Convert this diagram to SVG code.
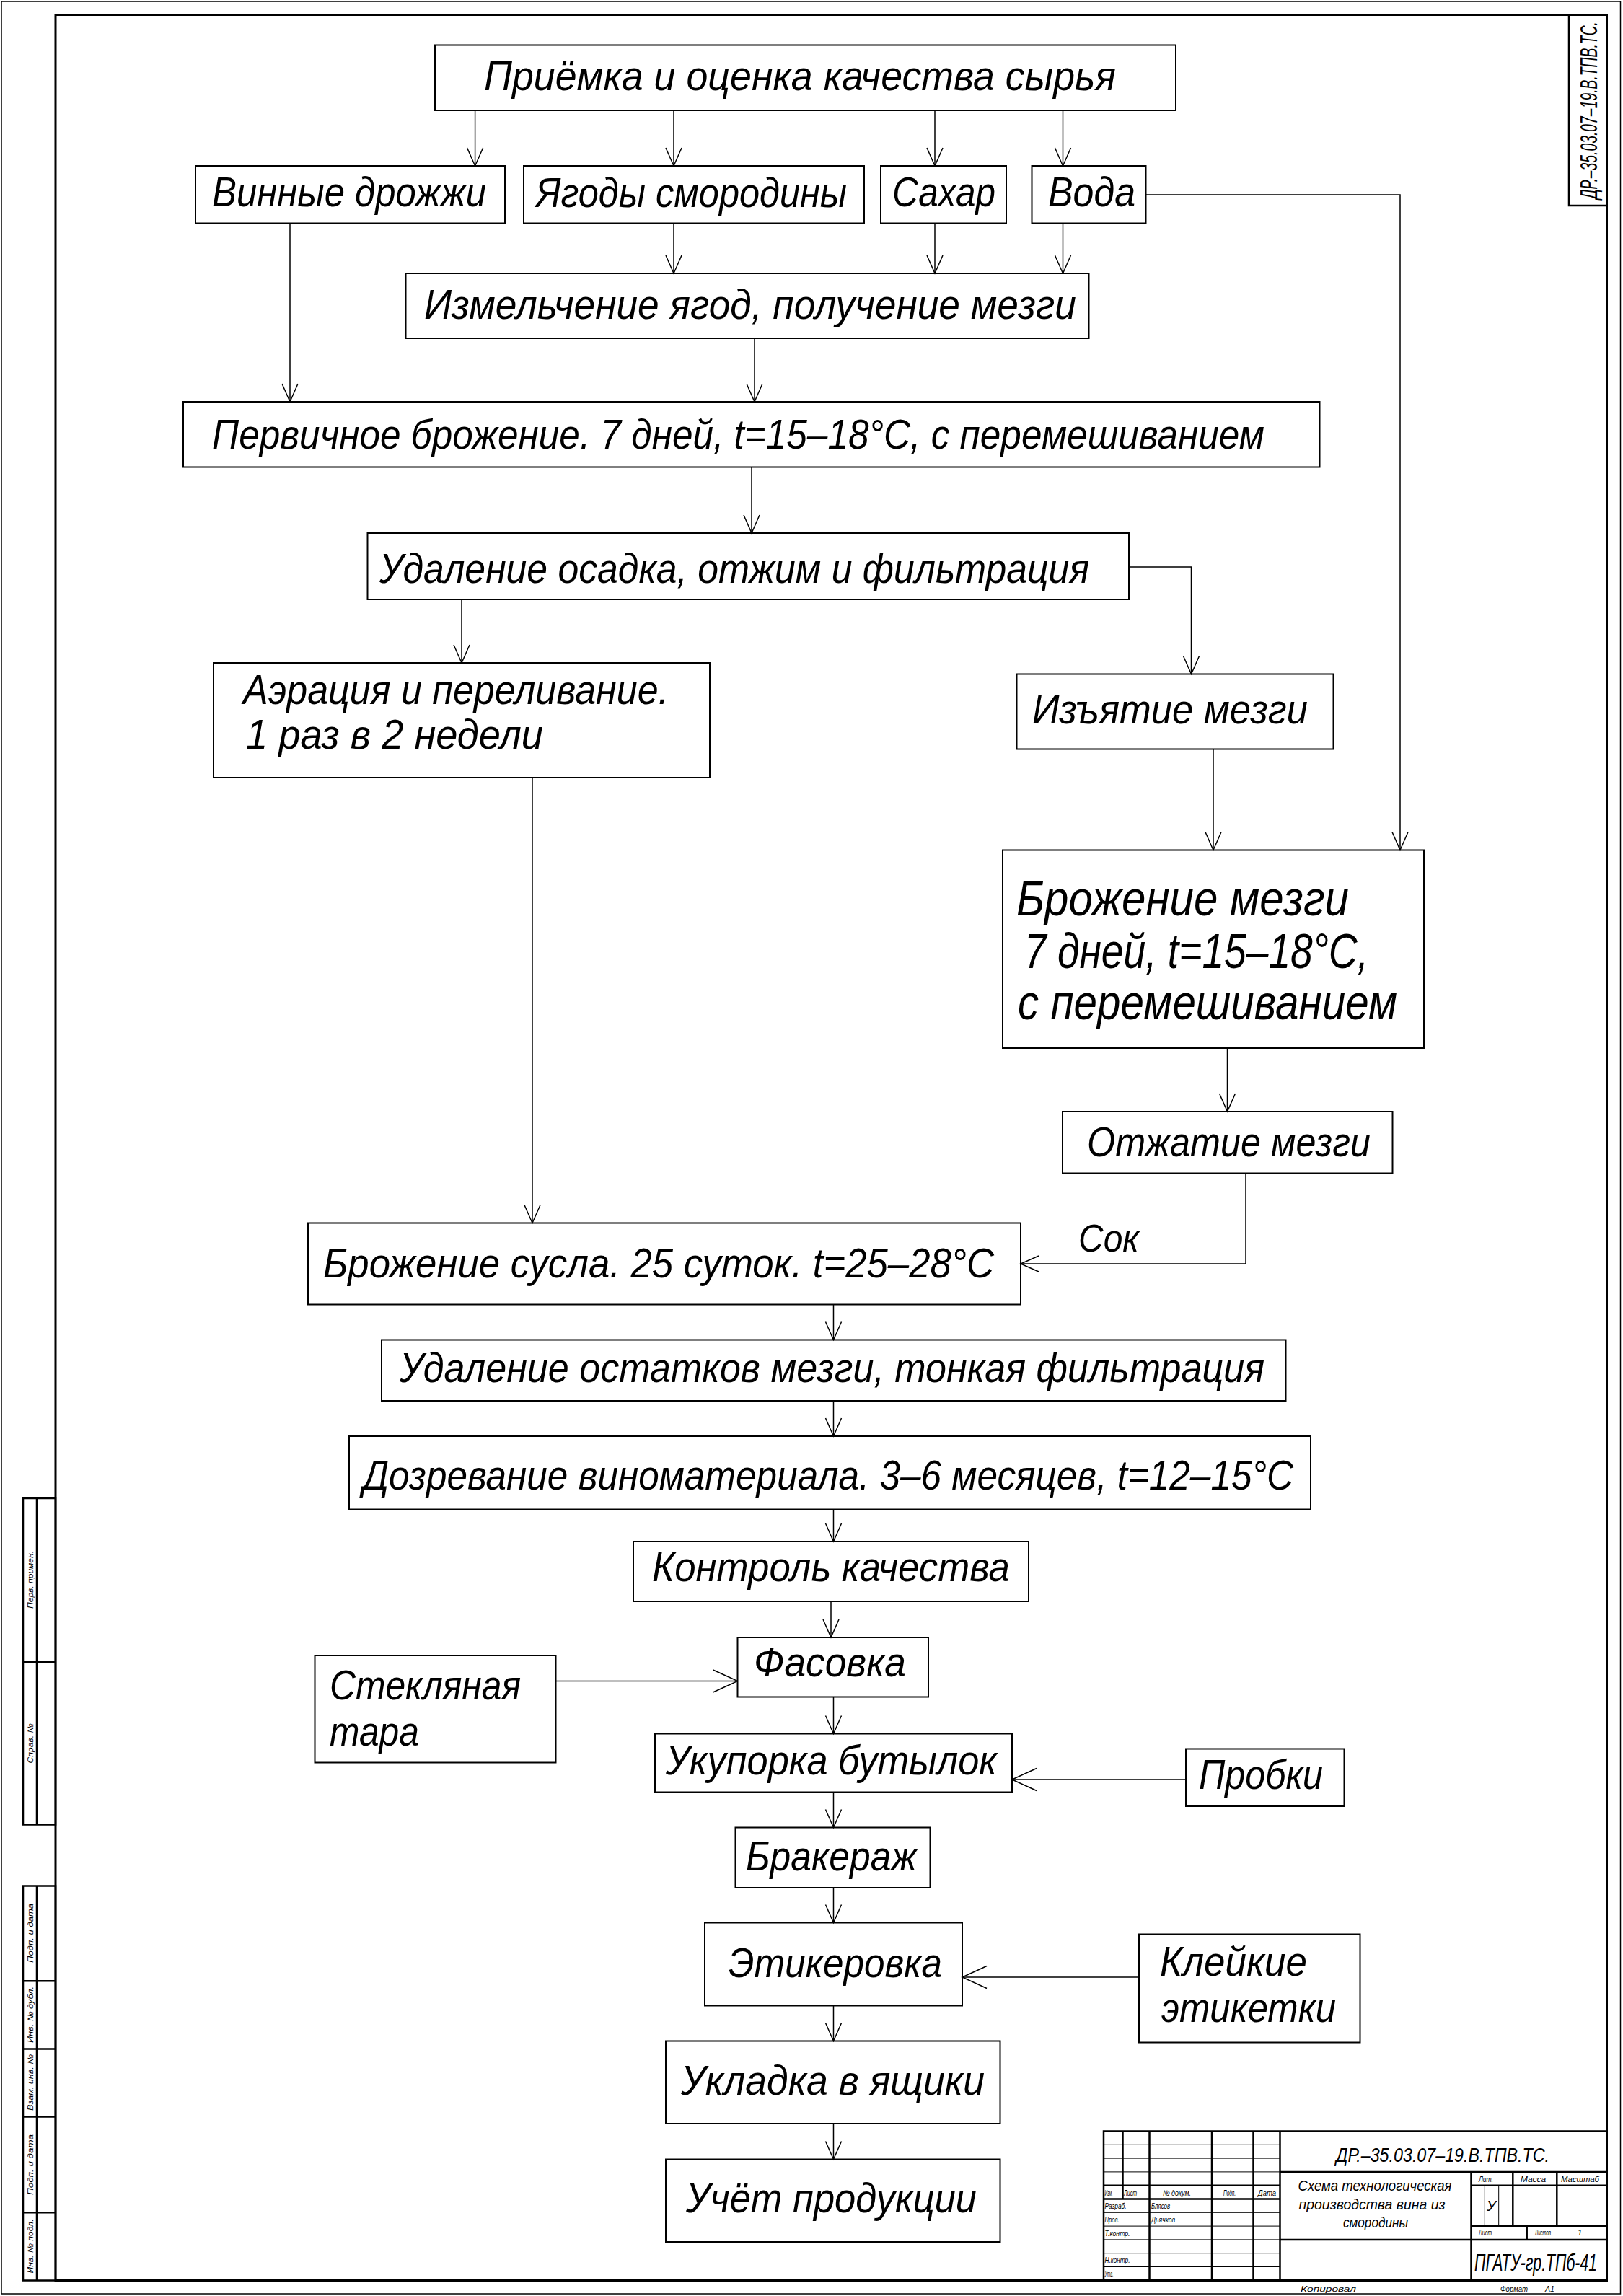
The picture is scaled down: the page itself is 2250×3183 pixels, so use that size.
<svg xmlns="http://www.w3.org/2000/svg" width="2250" height="3183" viewBox="0 0 2250 3183">
<style>
.box{fill:none;stroke:#000;stroke-width:2}
.con{fill:none;stroke:#000;stroke-width:1.5}
.thk{fill:none;stroke:#000;stroke-width:2.5}
.thn{fill:none;stroke:#000;stroke-width:1}
.t{font-family:"Liberation Sans","DejaVu Sans",sans-serif;font-style:italic;fill:#000;font-size:58px}
.b{font-size:68px}
.s{font-size:11px}
.f20{font-size:20px}
.f21{font-size:21px}
.f28{font-size:28px}
.f33{font-size:33px}
.f53{font-size:53px}
</style>
<defs>
<marker id="ah" markerUnits="userSpaceOnUse" viewBox="-40 -20 42 40" markerWidth="42" markerHeight="40" refX="0" refY="0" orient="auto">
<path d="M-25,-11 L0,0 L-25,11" fill="none" stroke="#000" stroke-width="1.5"/>
</marker>
<marker id="ahb" markerUnits="userSpaceOnUse" viewBox="-40 -20 42 40" markerWidth="42" markerHeight="40" refX="0" refY="0" orient="auto">
<path d="M-34,-15.5 L0,0 L-34,15.5" fill="none" stroke="#000" stroke-width="1.5"/>
</marker>
</defs>
<rect width="2250" height="3183" fill="#fff"/>

<g id="frame">
<rect x="2" y="2" width="2244.5" height="3178" fill="none" stroke="#000" stroke-width="1.5"/>
<rect x="77" y="20.5" width="2150.5" height="3141" fill="none" stroke="#000" stroke-width="3"/>
<rect x="2175" y="20.5" width="52.5" height="264.5" class="thk"/>
<text class="t f33" transform="translate(2214,276) rotate(-90)" textLength="246" lengthAdjust="spacingAndGlyphs">ДР.–35.03.07–19.В.ТПВ.ТС.</text>
</g>

<g id="side-strip">
<rect x="32" y="2077" width="45" height="452.5" class="thk"/>
<line x1="51" y1="2077" x2="51" y2="2529.5" class="thk"/>
<line x1="32" y1="2304" x2="77" y2="2304" class="thk"/>
<rect x="32" y="2614.5" width="45" height="547" class="thk"/>
<line x1="51" y1="2614.5" x2="51" y2="3161.5" class="thk"/>
<line x1="32" y1="2746.3" x2="77" y2="2746.3" class="thk"/>
<line x1="32" y1="2840.6" x2="77" y2="2840.6" class="thk"/>
<line x1="32" y1="2934.5" x2="77" y2="2934.5" class="thk"/>
<line x1="32" y1="3067.3" x2="77" y2="3067.3" class="thk"/>
<g class="t s" text-anchor="middle">
<text transform="translate(46,2190) rotate(-90)" textLength="80" lengthAdjust="spacingAndGlyphs">Перв. примен.</text>
<text transform="translate(46,2417) rotate(-90)" textLength="55" lengthAdjust="spacingAndGlyphs">Справ. №</text>
<text transform="translate(46,2680) rotate(-90)" textLength="82" lengthAdjust="spacingAndGlyphs">Подп. и дата</text>
<text transform="translate(46,2793) rotate(-90)" textLength="78" lengthAdjust="spacingAndGlyphs">Инв. № дубл.</text>
<text transform="translate(46,2887) rotate(-90)" textLength="78" lengthAdjust="spacingAndGlyphs">Взам. инв. №</text>
<text transform="translate(46,3001) rotate(-90)" textLength="84" lengthAdjust="spacingAndGlyphs">Подп. и дата</text>
<text transform="translate(46,3114) rotate(-90)" textLength="75" lengthAdjust="spacingAndGlyphs">Инв. № подл.</text>
</g>
</g>

<g id="title-block">
<rect x="1530" y="2954.5" width="697.5" height="207" class="thk"/>
<line x1="1556.5" y1="2954.5" x2="1556.5" y2="3048.5" class="thk"/>
<line x1="1593.5" y1="2954.5" x2="1593.5" y2="3161.5" class="thk"/>
<line x1="1680" y1="2954.5" x2="1680" y2="3161.5" class="thk"/>
<line x1="1737.5" y1="2954.5" x2="1737.5" y2="3161.5" class="thk"/>
<line x1="1774.5" y1="2954.5" x2="1774.5" y2="3161.5" class="thk"/>
<line x1="2039.5" y1="3010.9" x2="2039.5" y2="3161.5" class="thk"/>
<g class="thn">
<line x1="1530" y1="2973.3" x2="1774.5" y2="2973.3"/>
<line x1="1530" y1="2992.1" x2="1774.5" y2="2992.1"/>
<line x1="1530" y1="3010.9" x2="1774.5" y2="3010.9"/>
<line x1="1530" y1="3067.3" x2="1774.5" y2="3067.3"/>
<line x1="1530" y1="3086.1" x2="1774.5" y2="3086.1"/>
<line x1="1530" y1="3104.9" x2="1774.5" y2="3104.9"/>
<line x1="1530" y1="3123.7" x2="1774.5" y2="3123.7"/>
<line x1="1530" y1="3142.5" x2="1774.5" y2="3142.5"/>
<line x1="2058.3" y1="3029.7" x2="2058.3" y2="3086.1"/>
<line x1="2077.7" y1="3029.7" x2="2077.7" y2="3086.1"/>
</g>
<line x1="1530" y1="3029.7" x2="1774.5" y2="3029.7" class="thk"/>
<line x1="1530" y1="3048.5" x2="1774.5" y2="3048.5" class="thk"/>
<line x1="1774.5" y1="3010.9" x2="2227.5" y2="3010.9" class="thk"/>
<line x1="2039.5" y1="3029.7" x2="2227.5" y2="3029.7" class="thk"/>
<line x1="2039.5" y1="3086.1" x2="2227.5" y2="3086.1" class="thk"/>
<line x1="1774.5" y1="3104.9" x2="2227.5" y2="3104.9" class="thk"/>
<line x1="2097.3" y1="3010.9" x2="2097.3" y2="3086.1" class="thk"/>
<line x1="2158.3" y1="3010.9" x2="2158.3" y2="3086.1" class="thk"/>
<line x1="2116.7" y1="3086.1" x2="2116.7" y2="3104.9" class="thk"/>
<g class="t s">
<text x="1531.5" y="3044" textLength="11" lengthAdjust="spacingAndGlyphs">Изм.</text>
<text x="1558" y="3044" textLength="18" lengthAdjust="spacingAndGlyphs">Лист</text>
<text x="1612" y="3044" textLength="39" lengthAdjust="spacingAndGlyphs">№ докум.</text>
<text x="1696" y="3044" textLength="17" lengthAdjust="spacingAndGlyphs">Подп.</text>
<text x="1744" y="3044" textLength="25" lengthAdjust="spacingAndGlyphs">Дата</text>
<text x="1531.5" y="3062" textLength="30" lengthAdjust="spacingAndGlyphs">Разраб.</text>
<text x="1596" y="3062" textLength="26" lengthAdjust="spacingAndGlyphs">Блясов</text>
<text x="1531.5" y="3081" textLength="20" lengthAdjust="spacingAndGlyphs">Пров.</text>
<text x="1596" y="3081" textLength="33" lengthAdjust="spacingAndGlyphs">Дьячков</text>
<text x="1531.5" y="3100" textLength="35" lengthAdjust="spacingAndGlyphs">Т.контр.</text>
<text x="1531.5" y="3137" textLength="35" lengthAdjust="spacingAndGlyphs">Н.контр.</text>
<text x="1531.5" y="3156" textLength="12" lengthAdjust="spacingAndGlyphs">Утв.</text>
<text x="2050" y="3025" textLength="20" lengthAdjust="spacingAndGlyphs">Лит.</text>
<text x="2108" y="3025" textLength="35" lengthAdjust="spacingAndGlyphs">Масса</text>
<text x="2164" y="3025" textLength="53" lengthAdjust="spacingAndGlyphs">Масштаб</text>
<text x="2050" y="3099" textLength="18" lengthAdjust="spacingAndGlyphs">Лист</text>
<text x="2128" y="3099" textLength="22" lengthAdjust="spacingAndGlyphs">Листов</text>
<text x="2187" y="3099">1</text>
<text x="1803" y="3177" textLength="77" lengthAdjust="spacingAndGlyphs">Копировал</text>
<text x="2080" y="3177" textLength="38" lengthAdjust="spacingAndGlyphs">Формат</text>
<text x="2142" y="3177" textLength="13" lengthAdjust="spacingAndGlyphs">А1</text>
</g>
<text class="t f20" x="2061" y="3065">У</text>
<text class="t f28" x="1852" y="2997" textLength="296" lengthAdjust="spacingAndGlyphs">ДР.–35.03.07–19.В.ТПВ.ТС.</text>
<g class="t f21" text-anchor="middle">
<text x="1906" y="3037" textLength="213" lengthAdjust="spacingAndGlyphs">Схема технологическая</text>
<text x="1902" y="3063" textLength="203" lengthAdjust="spacingAndGlyphs">производства вина из</text>
<text x="1907" y="3088" textLength="90" lengthAdjust="spacingAndGlyphs">смородины</text>
</g>
<text class="t f33" x="2044" y="3148" textLength="170" lengthAdjust="spacingAndGlyphs">ПГАТУ-гр.ТПб-41</text>
</g>

<g id="connectors">
<line x1="658.6" y1="153" x2="658.6" y2="230" class="con" marker-end="url(#ah)"/>
<line x1="934" y1="153" x2="934" y2="230" class="con" marker-end="url(#ah)"/>
<line x1="1296" y1="153" x2="1296" y2="230" class="con" marker-end="url(#ah)"/>
<line x1="1473.5" y1="153" x2="1473.5" y2="230" class="con" marker-end="url(#ah)"/>
<line x1="934" y1="309.5" x2="934" y2="379" class="con" marker-end="url(#ah)"/>
<line x1="1296" y1="309.5" x2="1296" y2="379" class="con" marker-end="url(#ah)"/>
<line x1="1473.5" y1="309.5" x2="1473.5" y2="379" class="con" marker-end="url(#ah)"/>
<line x1="402" y1="309.5" x2="402" y2="557" class="con" marker-end="url(#ah)"/>
<line x1="1046" y1="469" x2="1046" y2="557" class="con" marker-end="url(#ah)"/>
<polyline points="1588.5,270 1941,270 1941,1178.5" class="con" marker-end="url(#ah)"/>
<line x1="1042" y1="647.5" x2="1042" y2="739" class="con" marker-end="url(#ah)"/>
<line x1="640" y1="831" x2="640" y2="919" class="con" marker-end="url(#ah)"/>
<polyline points="1565,786 1651.5,786 1651.5,934.5" class="con" marker-end="url(#ah)"/>
<line x1="738" y1="1078" x2="738" y2="1695.5" class="con" marker-end="url(#ah)"/>
<line x1="1682" y1="1038.5" x2="1682" y2="1178.5" class="con" marker-end="url(#ah)"/>
<line x1="1701.5" y1="1453" x2="1701.5" y2="1541" class="con" marker-end="url(#ah)"/>
<polyline points="1727,1626.5 1727,1752 1415,1752" class="con" marker-end="url(#ah)"/>
<line x1="1155.5" y1="1808.5" x2="1155.5" y2="1857.5" class="con" marker-end="url(#ah)"/>
<line x1="1155.5" y1="1942" x2="1155.5" y2="1991" class="con" marker-end="url(#ah)"/>
<line x1="1155.5" y1="2092.5" x2="1155.5" y2="2137" class="con" marker-end="url(#ah)"/>
<line x1="1152" y1="2220" x2="1152" y2="2270" class="con" marker-end="url(#ah)"/>
<line x1="770.5" y1="2330.5" x2="1022.5" y2="2330.5" class="con" marker-end="url(#ahb)"/>
<line x1="1155.5" y1="2352.5" x2="1155.5" y2="2403.5" class="con" marker-end="url(#ah)"/>
<line x1="1644" y1="2467" x2="1403" y2="2467" class="con" marker-end="url(#ahb)"/>
<line x1="1155.5" y1="2484.5" x2="1155.5" y2="2533.5" class="con" marker-end="url(#ah)"/>
<line x1="1155.5" y1="2617" x2="1155.5" y2="2665.5" class="con" marker-end="url(#ah)"/>
<line x1="1579" y1="2741" x2="1334" y2="2741" class="con" marker-end="url(#ahb)"/>
<line x1="1155.5" y1="2780.5" x2="1155.5" y2="2829.5" class="con" marker-end="url(#ah)"/>
<line x1="1155.5" y1="2944" x2="1155.5" y2="2993.5" class="con" marker-end="url(#ah)"/>
<text class="t f53" x="1495" y="1735" textLength="84" lengthAdjust="spacingAndGlyphs">Сок</text>
</g>

<g id="n1"><rect x="603" y="62.5" width="1027" height="90.5" class="box"/><text class="t" x="671" y="125" textLength="876" lengthAdjust="spacingAndGlyphs">Приёмка и оценка качества сырья</text></g>
<g id="n2"><rect x="271" y="230" width="429" height="79.5" class="box"/><text class="t" x="294" y="286" textLength="380" lengthAdjust="spacingAndGlyphs">Винные дрожжи</text></g>
<g id="n3"><rect x="726" y="230" width="472" height="79.5" class="box"/><text class="t" x="743" y="287" textLength="431" lengthAdjust="spacingAndGlyphs">Ягоды смородины</text></g>
<g id="n4"><rect x="1221" y="230" width="174" height="79.5" class="box"/><text class="t" x="1237" y="286" textLength="143" lengthAdjust="spacingAndGlyphs">Сахар</text></g>
<g id="n5"><rect x="1430.5" y="230" width="158" height="79.5" class="box"/><text class="t" x="1453" y="286" textLength="121" lengthAdjust="spacingAndGlyphs">Вода</text></g>
<g id="n6"><rect x="562.5" y="379" width="947" height="90" class="box"/><text class="t" x="588" y="442" textLength="904" lengthAdjust="spacingAndGlyphs">Измельчение ягод, получение мезги</text></g>
<g id="n7"><rect x="254" y="557" width="1575.5" height="90.5" class="box"/><text class="t" x="294" y="622" textLength="1459" lengthAdjust="spacingAndGlyphs">Первичное брожение. 7 дней, t=15–18°C, с перемешиванием</text></g>
<g id="n8"><rect x="509.5" y="739" width="1055.5" height="92" class="box"/><text class="t" x="526" y="808" textLength="984" lengthAdjust="spacingAndGlyphs">Удаление осадка, отжим и фильтрация</text></g>
<g id="n9"><rect x="296" y="919" width="688" height="159" class="box"/><text class="t" x="337" y="976" textLength="590" lengthAdjust="spacingAndGlyphs">Аэрация и переливание.</text><text class="t" x="341" y="1038" textLength="412" lengthAdjust="spacingAndGlyphs">1 раз в 2 недели</text></g>
<g id="n10"><rect x="1409.5" y="934.5" width="439" height="104" class="box"/><text class="t" x="1431" y="1003" textLength="382" lengthAdjust="spacingAndGlyphs">Изъятие мезги</text></g>
<g id="n11"><rect x="1390" y="1178.5" width="584" height="274.5" class="box"/><text class="t b" x="1409" y="1269" textLength="461" lengthAdjust="spacingAndGlyphs">Брожение мезги</text><text class="t b" x="1420" y="1342" textLength="477" lengthAdjust="spacingAndGlyphs">7 дней, t=15–18°C,</text><text class="t b" x="1411" y="1413" textLength="526" lengthAdjust="spacingAndGlyphs">с перемешиванием</text></g>
<g id="n12"><rect x="1473" y="1541" width="457.5" height="85.5" class="box"/><text class="t" x="1507" y="1603" textLength="393" lengthAdjust="spacingAndGlyphs">Отжатие мезги</text></g>
<g id="n13"><rect x="427" y="1695.5" width="988" height="113" class="box"/><text class="t" x="448" y="1771" textLength="930" lengthAdjust="spacingAndGlyphs">Брожение сусла. 25 суток. t=25–28°C</text></g>
<g id="n14"><rect x="529" y="1857.5" width="1253.5" height="84.5" class="box"/><text class="t" x="554" y="1916" textLength="1199" lengthAdjust="spacingAndGlyphs">Удаление остатков мезги, тонкая фильтрация</text></g>
<g id="n15"><rect x="484" y="1991" width="1333" height="101.5" class="box"/><text class="t" x="503" y="2065" textLength="1290" lengthAdjust="spacingAndGlyphs">Дозревание виноматериала. 3–6 месяцев, t=12–15°C</text></g>
<g id="n16"><rect x="878" y="2137" width="548" height="83" class="box"/><text class="t" x="904" y="2192" textLength="496" lengthAdjust="spacingAndGlyphs">Контроль качества</text></g>
<g id="n17"><rect x="1022.5" y="2270" width="264.5" height="82.5" class="box"/><text class="t" x="1045" y="2324" textLength="211" lengthAdjust="spacingAndGlyphs">Фасовка</text></g>
<g id="n18"><rect x="436.5" y="2295" width="334" height="148.5" class="box"/><text class="t" x="457" y="2356" textLength="265" lengthAdjust="spacingAndGlyphs">Стекляная</text><text class="t" x="457" y="2420" textLength="124" lengthAdjust="spacingAndGlyphs">тара</text></g>
<g id="n19"><rect x="908" y="2403.5" width="495" height="81" class="box"/><text class="t" x="923" y="2460" textLength="459" lengthAdjust="spacingAndGlyphs">Укупорка бутылок</text></g>
<g id="n20"><rect x="1644" y="2424.5" width="219.5" height="79.5" class="box"/><text class="t" x="1662" y="2480" textLength="172" lengthAdjust="spacingAndGlyphs">Пробки</text></g>
<g id="n21"><rect x="1019.5" y="2533.5" width="270" height="83.5" class="box"/><text class="t" x="1034" y="2593" textLength="237" lengthAdjust="spacingAndGlyphs">Бракераж</text></g>
<g id="n22"><rect x="977" y="2665.5" width="357" height="115" class="box"/><text class="t" x="1010" y="2741" textLength="296" lengthAdjust="spacingAndGlyphs">Этикеровка</text></g>
<g id="n23"><rect x="1579" y="2681.5" width="306.5" height="150" class="box"/><text class="t" x="1608" y="2739" textLength="204" lengthAdjust="spacingAndGlyphs">Клейкие</text><text class="t" x="1610" y="2803" textLength="242" lengthAdjust="spacingAndGlyphs">этикетки</text></g>
<g id="n24"><rect x="923" y="2829.5" width="463.5" height="114.5" class="box"/><text class="t" x="944" y="2904" textLength="421" lengthAdjust="spacingAndGlyphs">Укладка в ящики</text></g>
<g id="n25"><rect x="923" y="2993.5" width="463.5" height="114.5" class="box"/><text class="t" x="951" y="3067" textLength="403" lengthAdjust="spacingAndGlyphs">Учёт продукции</text></g>
</svg>
